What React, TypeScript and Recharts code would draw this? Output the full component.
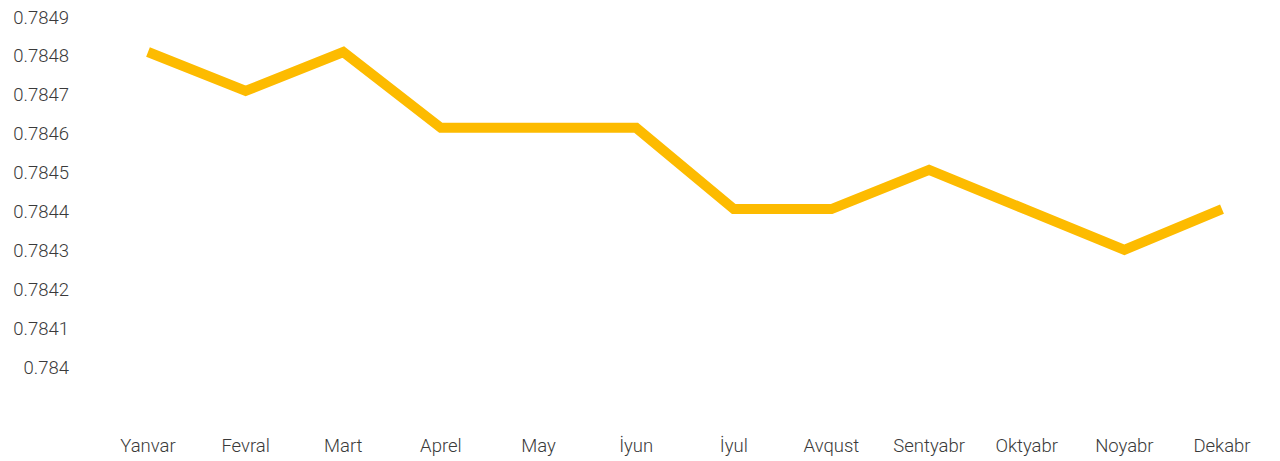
import React from "react";
import { LineChart, Line, XAxis, YAxis } from "recharts";

const months = [
  "Yanvar",
  "Fevral",
  "Mart",
  "Aprel",
  "May",
  "İyun",
  "İyul",
  "Avqust",
  "Sentyabr",
  "Oktyabr",
  "Noyabr",
  "Dekabr",
];

const rates = [
  0.78481, 0.78471, 0.78481, 0.784615, 0.784615, 0.784615, 0.784406, 0.784406,
  0.784507, 0.784404, 0.784301, 0.784406,
];

const yTicks = [
  0.784, 0.7841, 0.7842, 0.7843, 0.7844, 0.7845, 0.7846, 0.7847, 0.7848, 0.7849,
];

const data = months.map((m, i) => ({ month: m, rate: rates[i] }));

const tickStyle = {
  fill: "#3a3a3a",
  fontSize: 18.5,
  fontFamily: "Roboto",
  fontWeight: 300,
};

const App = () => {
  return (
    <div style={{ position: "absolute", left: 0, top: 0, background: "#fff" }}>
      <LineChart
        width={1280}
        height={461}
        data={data}
        margin={{ top: 17, right: 9, bottom: 0, left: 0 }}
      >
        <XAxis
          dataKey="month"
          axisLine={false}
          tickLine={false}
          tick={tickStyle}
          tickMargin={66}
          height={94}
          interval={0}
          padding={{ left: 49, right: 49 }}
        />
        <YAxis
          domain={[0.784, 0.7849]}
          ticks={yTicks}
          axisLine={false}
          tickLine={false}
          tick={tickStyle}
          tickMargin={24}
          width={99}
          interval={0}
          tickFormatter={(v) => String(Number(v.toFixed(4)))}
        />
        <Line
          type="linear"
          dataKey="rate"
          stroke="#FDBB00"
          strokeWidth={10}
          dot={false}
          strokeLinejoin="miter"
          strokeLinecap="butt"
          isAnimationActive={false}
        />
      </LineChart>
    </div>
  );
};

export default App;
